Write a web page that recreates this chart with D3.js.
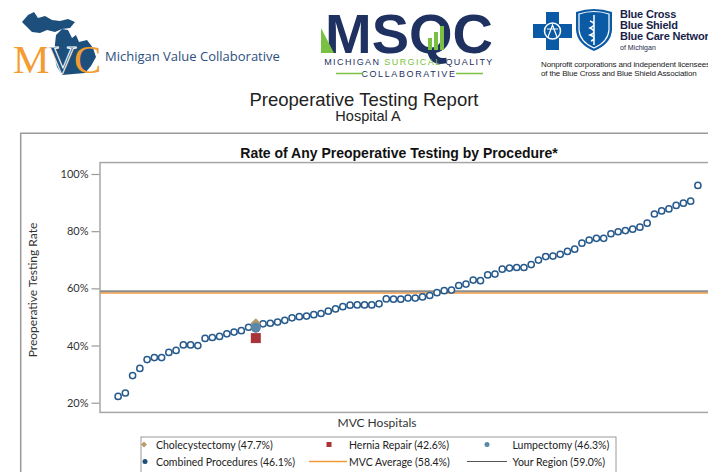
<!DOCTYPE html>
<html><head><meta charset="utf-8">
<script src="https://cdn.jsdelivr.net/npm/d3@7"></script>
<style>body{margin:0;background:#fff;overflow:hidden} svg{display:block}</style>
</head><body>
<svg id="c" width="708" height="472"></svg>
<script>
// ---------- DATA ----------
const hospitalRates = [22.2,23.4,29.5,32.0,35.1,35.8,35.8,37.6,38.3,40.2,
  40.2,40.0,42.5,42.8,43.2,44.1,44.7,45.2,46.4,46.1,
  47.6,47.8,48.2,48.8,49.7,50.1,50.3,50.8,51.2,52.0,
  52.8,53.6,54.1,54.2,54.2,54.2,54.6,56.3,56.2,56.2,
  56.6,56.6,57.0,57.5,58.5,59.2,59.4,61.0,61.5,62.9,
  62.7,64.7,65.0,66.7,67.1,67.3,67.3,68.3,69.9,71.1,
  71.3,71.9,72.9,73.7,75.8,76.9,77.5,77.5,79.1,79.8,
  80.2,80.7,81.4,82.8,86.0,87.1,87.8,89.0,89.8,90.5,96.0];
const hospitalAIndex = 19;
const procedureNames = ["Cholecystectomy","Hernia Repair","Lumpectomy","Combined Procedures"];
const procedureRates = [47.7, 42.6, 46.3, 46.1];
const referenceNames = ["MVC Average","Your Region"];
const referenceRates = [58.4, 59.0];
const yTicks = [20,40,60,80,100];

// ---------- SETUP ----------
const svg = d3.select("#c");
const F = "Lato, 'Open Sans', sans-serif";
const A = "'Liberation Sans', Arial, sans-serif";
const navy = "#1e3160", green = "#7ac143";

// ---------- HEADER LOGOS ----------
const mvc = svg.append("g");
mvc.append("path").attr("fill","#1d4f7c")
  .attr("d","M22,22 L28,15 L34,12 L38,18 L45,16 L52,20 L60,21 L68,19 L75,22 L70,28 L62,29 L55,32 L47,30 L40,33 L32,32 L27,27 Z");
mvc.append("path").attr("fill","#1d4f7c")
  .attr("d","M56,35 L62,29 L68,30 L72,38 L76,35 L79,42 L87,40 L93,48 L96,57 L91,66 L85,73 L62,75 L57,67 L54,55 L55,44 Z");
mvc.append("text").attr("x",13).attr("y",73).attr("font-family","'Liberation Serif', serif")
  .attr("font-size",41).attr("fill","#f39c32").text("M");
mvc.append("text").attr("x",47).attr("y",73).attr("font-family","'Liberation Serif', serif")
  .attr("font-size",41).attr("fill","#1d4f7c").attr("stroke","#fff").attr("stroke-width",1).text("V");
mvc.append("text").attr("x",74).attr("y",73).attr("font-family","'Liberation Serif', serif")
  .attr("font-size",41).attr("fill","#f39c32").text("C");
mvc.append("text").attr("x",105).attr("y",61).attr("font-family","'Open Sans', sans-serif")
  .attr("font-size",13).attr("fill","#2d4f80").text("Michigan Value Collaborative");

const msqc = svg.append("g");
msqc.append("text").attr("x",409).attr("y",53).attr("text-anchor","middle")
  .attr("font-family",A).attr("font-weight","bold").attr("font-size",56)
  .attr("fill",navy).text("MSQC");
msqc.append("path").attr("fill",green).attr("d","M321,53 L321,28 L334,53 Z");
[[428,38,4,12],[434,32,4,18],[440,26,4,24]].forEach(b=>
  msqc.append("rect").attr("x",b[0]).attr("y",b[1]).attr("width",b[2]).attr("height",b[3]).attr("fill",green));
// subtitle built from three pieces placed side by side
const subParts = [["MICHIGAN ",navy],["SURGICAL",green],[" QUALITY",navy]];
const subG = msqc.append("g").attr("font-family",A).attr("font-size",9).attr("letter-spacing",1.4);
let cx = 0;
const subNodes = subParts.map(p=>{
  const t = subG.append("text").attr("x",0).attr("y",65).attr("fill",p[1]).attr("xml:space","preserve").style("white-space","pre").text(p[0]);
  const w = t.node().getComputedTextLength();
  t.attr("x",cx); cx += w; return t;
});
subG.attr("transform",`translate(${409 - cx/2},0)`);
msqc.append("text").attr("x",409).attr("y",77).attr("text-anchor","middle")
  .attr("font-family",A).attr("font-size",9).attr("letter-spacing",1.6).attr("fill",navy).text("COLLABORATIVE");
msqc.append("line").attr("x1",336).attr("x2",363).attr("y1",73.5).attr("y2",73.5).attr("stroke",green).attr("stroke-width",1.5);
msqc.append("line").attr("x1",456).attr("x2",483).attr("y1",73.5).attr("y2",73.5).attr("stroke",green).attr("stroke-width",1.5);

const bc = svg.append("g");
const bblue = "#0b5aa5";
bc.append("path").attr("fill",bblue)
  .attr("d","M546,12 L559,12 L559,24 L572,24 L572,38 L559,38 L559,50 L546,50 L546,38 L533,38 L533,24 L546,24 Z");
bc.append("circle").attr("cx",552.5).attr("cy",31).attr("r",8).attr("fill","none").attr("stroke","#fff").attr("stroke-width",1.5);
bc.append("path").attr("fill","none").attr("stroke","#fff").attr("stroke-width",1.2).attr("d","M548,37 L552.5,25 L557,37 M547,29 L558,29");
bc.append("path").attr("fill",bblue)
  .attr("d","M576,12 Q594,6 612,12 L612,30 Q611,44 594,51 Q577,44 576,30 Z");
bc.append("path").attr("fill","none").attr("stroke","#fff").attr("stroke-width",1.2)
  .attr("d","M579,14 Q594,9 609,14 L609,30 Q608,42 594,48 Q580,42 579,30 Z");
bc.append("path").attr("fill","none").attr("stroke","#fff").attr("stroke-width",1.5)
  .attr("d","M594,15 L594,45 M590,21 Q598,24 590,28 Q598,32 590,35 Q598,38 591,41");
[["Blue Cross",18],["Blue Shield",29],["Blue Care Network",40]].forEach(d=>
  bc.append("text").attr("x",620).attr("y",d[1]).attr("font-family",A).attr("font-weight","bold")
    .attr("font-size",11).attr("fill","#1a1f4a").attr("letter-spacing",-0.2).text(d[0]));
bc.append("text").attr("x",620).attr("y",50).attr("font-family",A).attr("font-size",7)
  .attr("fill","#1a1f4a").text("of Michigan");
bc.append("text").attr("x",541).attr("y",67).attr("font-family",A).attr("font-size",8)
  .attr("fill","#222").attr("letter-spacing",-0.15).text("Nonprofit corporations and independent licensees");
bc.append("text").attr("x",541).attr("y",75.5).attr("font-family",A).attr("font-size",8)
  .attr("fill","#222").attr("letter-spacing",-0.15).text("of the Blue Cross and Blue Shield Association");

// ---------- REPORT TITLES ----------
svg.append("text").attr("x",364).attr("y",106).attr("text-anchor","middle")
  .attr("font-family",A).attr("font-size",18.5).attr("fill","#222").text("Preoperative Testing Report");
svg.append("text").attr("x",368).attr("y",120.5).attr("text-anchor","middle")
  .attr("font-family",A).attr("font-size",14.5).attr("fill","#222").text("Hospital A");

// outer frame
svg.append("path").attr("fill","none").attr("stroke","#9a9a9a").attr("stroke-width",1.5)
  .attr("d","M20.7,480 L20.7,133.3 L720,133.3");

svg.append("text").attr("x",399).attr("y",157.5).attr("text-anchor","middle")
  .attr("font-family",A).attr("font-weight","bold").attr("font-size",14).attr("fill","#111")
  .text("Rate of Any Preoperative Testing by Procedure*");

// ---------- SCALES ----------
const x = d3.scaleLinear().domain([-2.5, hospitalRates.length + 1.5]).range([100, 716]);
const y = d3.scaleLinear().domain([20, 100]).range([402.7, 174]);
const yTop = y(104), yBot = y(16.6);

// plot frame
svg.append("rect").attr("x",100).attr("y",yTop).attr("width",620).attr("height",yBot-yTop)
  .attr("fill","none").attr("stroke","#a6a6a6").attr("stroke-width",1.5);

// y axis
const yAxis = d3.axisLeft(y).tickValues(yTicks).tickFormat(d=>d+"%").tickSize(8).tickPadding(3);
const ga = svg.append("g").attr("transform","translate(99.5,0)").call(yAxis);
ga.select(".domain").remove();
ga.selectAll(".tick line").attr("stroke","#9a9a9a").attr("stroke-width",1.2);
ga.selectAll(".tick text").attr("font-family",F).attr("font-size",11).attr("fill","#333");

svg.append("text").attr("transform","translate(37,290) rotate(-90)").attr("text-anchor","middle")
  .attr("font-family",F).attr("font-size",12).attr("fill","#333").text("Preoperative Testing Rate");
svg.append("text").attr("x",377).attr("y",427).attr("text-anchor","middle")
  .attr("font-family",F).attr("font-size",12).attr("fill","#333").text("MVC Hospitals");

// reference lines
const refColors = ["#f29a3a","#8e8e8e"], refWidths = [1.5, 2];
referenceRates.forEach((v,i)=>{
  svg.append("line").attr("x1",100).attr("x2",720).attr("y1",y(v)).attr("y2",y(v))
    .attr("stroke",refColors[i]).attr("stroke-width",refWidths[i]);
});

// hospital circles
svg.append("g").selectAll("circle").data(hospitalRates).join("circle")
  .attr("cx",(d,i)=>x(i)).attr("cy",d=>y(d)).attr("r",3.1)
  .attr("fill","#fff").attr("stroke","#275a8c").attr("stroke-width",1.5);

// Hospital A procedure markers
const hx = x(hospitalAIndex);
const colors = {chole:"#b8996a", hernia:"#a8343a", lump:"#5a88aa", comb:"#1f4e79"};
svg.append("circle").attr("cx",hx).attr("cy",y(procedureRates[3])).attr("r",4.5).attr("fill",colors.comb);
svg.append("path").attr("transform",`translate(${hx},${y(procedureRates[0])})`)
  .attr("d",d3.symbol(d3.symbolDiamond2, 74)).attr("fill",colors.chole);
svg.append("rect").attr("x",hx-5).attr("y",y(procedureRates[1])-5).attr("width",10).attr("height",10).attr("fill",colors.hernia);
svg.append("circle").attr("cx",hx).attr("cy",y(procedureRates[2])).attr("r",5).attr("fill",colors.lump);

// ---------- LEGEND ----------
svg.append("rect").attr("x",141).attr("y",437).attr("width",475).attr("height",50)
  .attr("fill","none").attr("stroke","#9a9a9a").attr("stroke-width",1);
const lg = svg.append("g").attr("font-family",F).attr("font-size",10.5).attr("fill","#222");
const r1 = 444.5, r2 = 461.5;
lg.append("path").attr("transform",`translate(144,${r1})`).attr("d",d3.symbol(d3.symbolDiamond2,22)).attr("fill",colors.chole);
lg.append("text").attr("x",156).attr("y",r1+4).text(`${procedureNames[0]} (${procedureRates[0].toFixed(1)}%)`);
lg.append("rect").attr("x",326.5).attr("y",r1-2.5).attr("width",5).attr("height",5).attr("fill",colors.hernia);
lg.append("text").attr("x",349).attr("y",r1+4).text(`${procedureNames[1]} (${procedureRates[1].toFixed(1)}%)`);
lg.append("circle").attr("cx",487).attr("cy",r1).attr("r",2.5).attr("fill",colors.lump);
lg.append("text").attr("x",512.5).attr("y",r1+4).text(`${procedureNames[2]} (${procedureRates[2].toFixed(1)}%)`);
lg.append("circle").attr("cx",145).attr("cy",r2).attr("r",2.5).attr("fill",colors.comb);
lg.append("text").attr("x",156).attr("y",r2+4).text(`${procedureNames[3]} (${procedureRates[3].toFixed(1)}%)`);
lg.append("line").attr("x1",309).attr("x2",347).attr("y1",r2).attr("y2",r2).attr("stroke",refColors[0]).attr("stroke-width",1.5);
lg.append("text").attr("x",349).attr("y",r2+4).text(`${referenceNames[0]} (${referenceRates[0].toFixed(1)}%)`);
lg.append("line").attr("x1",467).attr("x2",507).attr("y1",r2).attr("y2",r2).attr("stroke","#555").attr("stroke-width",1.2);
lg.append("text").attr("x",512.5).attr("y",r2+4).text(`${referenceNames[1]} (${referenceRates[1].toFixed(1)}%)`);
</script>
</body></html>
